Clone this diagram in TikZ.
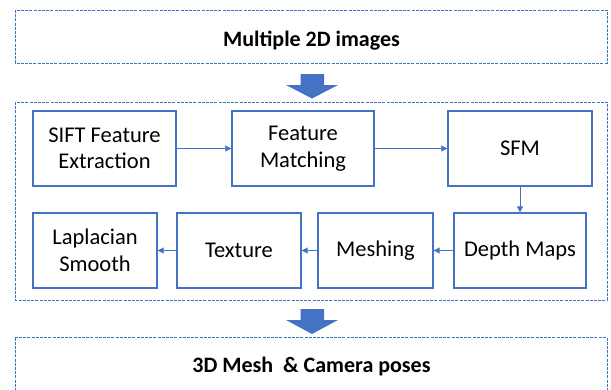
\documentclass[tikz,border=0pt]{standalone}
\usepackage{fontspec}
\setmainfont{Carlito}
\usetikzlibrary{arrows.meta}
\definecolor{oblue}{HTML}{4472C4}
\tikzset{
  outer/.style={draw=oblue, line width=1pt, dash pattern=on 3pt off 1.2pt},
  title/.style={font=\bfseries\fontsize{22}{26}\selectfont, anchor=base, inner sep=0pt},
  stepbox/.style={draw=oblue, line width=1.4pt, align=center, font=\fontsize{22.5}{26.5}\selectfont, inner sep=0pt},
  conn/.style={draw=oblue, line width=1pt, -{Triangle[length=6pt,width=6pt]}},
}
\begin{document}
\begin{tikzpicture}[x=1pt,y=-1pt]
\useasboundingbox (0,0) rectangle (611,389);
% outer boxes
\draw[outer] (15,10) rectangle (607,63);
\node[title] (t1) at (311.5,46) {Multiple 2D images};
\draw[outer] (15,102) rectangle (607,300);
\draw[outer] (15,337.5) rectangle (607,400);
\node[title] (t3) at (311.5,372.3) {3D Mesh\ \ \& Camera poses};
% block arrows
\fill[oblue] (300.5,74) -- (324,74) -- (324,85) -- (338,85) -- (312,98.5) -- (286,85) -- (300.5,85) -- cycle;
\fill[oblue] (300.5,309) -- (324,309) -- (324,320) -- (338,320) -- (312,334) -- (286,320) -- (300.5,320) -- cycle;
% inner steps
\node[stepbox, minimum width=143pt, minimum height=75pt] (sift) at (104.5,148.5) {SIFT Feature\\Extraction};
\node[stepbox, minimum width=142pt, minimum height=75pt] (fm) at (303,148.5) {Feature\\Matching};
\node[stepbox, minimum width=144pt, minimum height=75pt] (sfm) at (520,148.5) {SFM};
\node[stepbox, minimum width=132pt, minimum height=75pt] (dm) at (520,250.5) {Depth Maps};
\node[stepbox, minimum width=115pt, minimum height=75pt] (mesh) at (375.5,250.5) {Meshing};
\node[stepbox, minimum width=124pt, minimum height=75pt] (tex) at (239,250.5) {Texture};
\node[stepbox, minimum width=124pt, minimum height=75pt] (lap) at (95,250.5) {Laplacian\\Smooth};
\draw[conn] (sift) -- (fm);
\draw[conn] (fm) -- (sfm);
\draw[conn] (sfm) -- (dm);
\draw[conn] (dm) -- (mesh);
\draw[conn] (mesh) -- (tex);
\draw[conn] (tex) -- (lap);
\end{tikzpicture}
\end{document}
